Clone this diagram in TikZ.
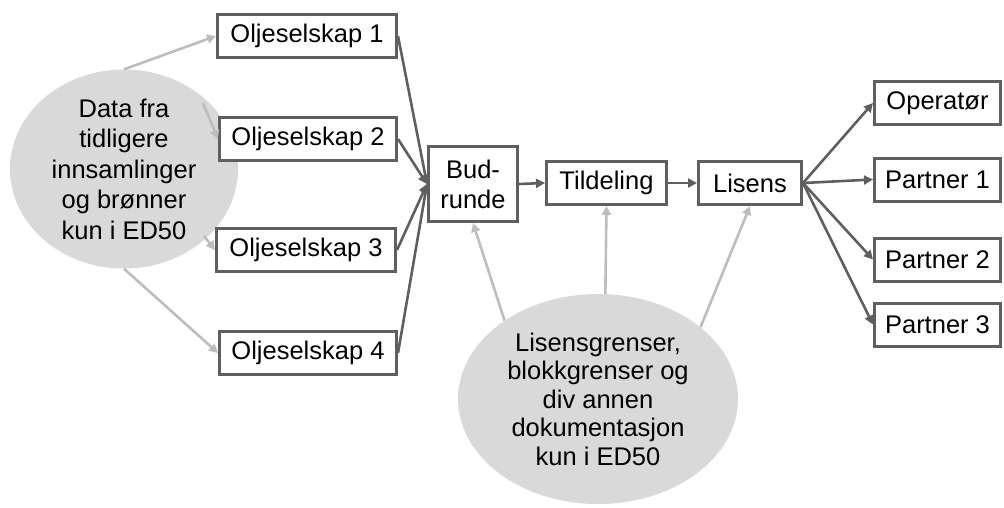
\documentclass[tikz,border=0pt]{standalone}
\usepackage{fontspec}
\setmainfont{Liberation Sans}
\usetikzlibrary{arrows.meta,shapes.geometric}
\definecolor{boxgray}{HTML}{5F5F5F}
\definecolor{lightln}{HTML}{BDBDBD}
\definecolor{ellfill}{HTML}{D9D9D9}
\tikzset{
  box/.style={draw=boxgray, line width=3pt, fill=white, inner sep=0pt, align=center,
    font=\fontsize{25.5}{30}\selectfont},
  blob/.style={ellipse, fill=ellfill, inner sep=0pt, align=center},
  darkarr/.style={draw=boxgray, line width=2.6pt, -{Triangle[length=9pt,width=9pt]}},
  lightarr/.style={draw=lightln, line width=2.6pt, -{Triangle[length=9pt,width=9pt]}},
}
\begin{document}
\begin{tikzpicture}[x=1pt,y=-1pt]
\useasboundingbox (0,0) rectangle (1004,507);
% ellipses
\node[blob, minimum width=228pt, minimum height=186pt, font=\fontsize{25.5}{30.5}\selectfont] (e1) at (124,169)
  {Data fra\\tidligere\\innsamlinger\\og brønner\\kun i ED50};
\node[blob, minimum width=280pt, minimum height=210pt, font=\fontsize{25.5}{28.5}\selectfont] (e2) at (598,399)
  {Lisensgrenser,\\blokkgrenser og\\div annen\\dokumentasjon\\kun i ED50};
% boxes
\node[box, minimum width=179pt, minimum height=43pt] (o1) at (307,36) {Oljeselskap 1};
\node[box, minimum width=177pt, minimum height=43pt] (o2) at (308,139) {Oljeselskap 2};
\node[box, minimum width=179pt, minimum height=43pt] (o3) at (306,250) {Oljeselskap 3};
\node[box, minimum width=177pt, minimum height=43pt] (o4) at (308,353) {Oljeselskap 4};
\node[box, minimum width=89pt, minimum height=75pt] (bud) at (473,184) {Bud-\\runde};
\node[box, minimum width=120pt, minimum height=43pt] (til) at (606.5,183) {Tildeling};
\node[box, minimum width=103pt, minimum height=43pt] (lis) at (750,183) {Lisens};
\node[box, minimum width=126pt, minimum height=43pt] (op) at (937.5,103) {Operatør};
\node[box, minimum width=126pt, minimum height=43pt] (p1) at (937.5,179.5) {Partner 1};
\node[box, minimum width=126pt, minimum height=43pt] (p2) at (937.5,259.5) {Partner 2};
\node[box, minimum width=126pt, minimum height=43pt] (p3) at (937.5,324.5) {Partner 3};
% light arrows from left ellipse
\coordinate (e1a) at (203,103);
\coordinate (e1b) at (204,236);
\draw[lightarr] (e1.north) -- (o1.west);
\draw[lightarr] (e1a) -- (o2.west);
\draw[lightarr] (e1b) -- (o3.west);
\draw[lightarr] (e1.south) -- (o4.west);
% dark arrows into Bud-runde
\draw[darkarr] (o1.east) -- (bud.west);
\draw[darkarr] (o2.east) -- (bud.west);
\draw[darkarr] (o3.east) -- (bud.west);
\draw[darkarr] (o4.east) -- (bud.west);
\draw[darkarr] (bud.east) -- (til.west);
\draw[darkarr] (til.east) -- (lis.west);
\draw[darkarr] (lis.east) -- (op.west);
\draw[darkarr] (lis.east) -- (p1.west);
\draw[darkarr] (lis.east) -- (p2.west);
\draw[darkarr] (lis.east) -- (p3.west);
% light arrows from bottom ellipse
\draw[lightarr] (e2.140) -- (bud.south);
\draw[lightarr] (e2.86) -- (til.south);
\draw[lightarr] (e2.35) -- (lis.south);
\end{tikzpicture}
\end{document}
